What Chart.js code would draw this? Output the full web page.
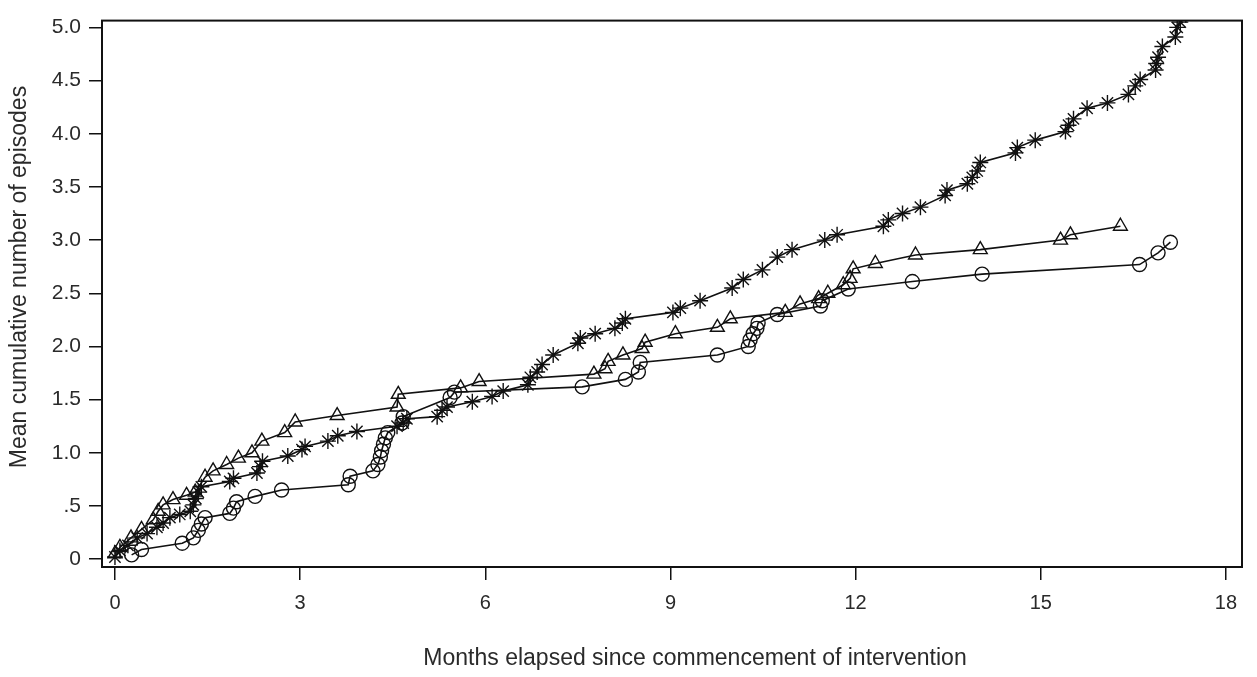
<!DOCTYPE html>
<html>
<head>
<meta charset="utf-8">
<script src="https://cdn.jsdelivr.net/npm/chart.js@4/dist/chart.umd.min.js"></script>
<style>
  html, body { margin: 0; padding: 0; background: #fff; }
  #wrap { width: 1257px; height: 677px; }
</style>
</head>
<body>
<div id="wrap"><canvas id="mcf" width="1257" height="677"></canvas></div>
<script>
// months elapsed / mean cumulative number of episodes
const triMonths = [0.0, 0.08, 0.26, 0.43, 0.62, 0.7, 0.78, 0.94, 1.16, 1.3, 1.46, 1.59, 1.81, 2.0, 2.22, 2.38, 2.75, 2.92, 3.6, 4.57, 4.59, 5.6, 5.9, 7.76, 7.94, 7.99, 8.23, 8.54, 8.59, 9.08, 9.76, 9.97, 10.86, 11.1, 11.4, 11.55, 11.8, 11.91, 11.96, 12.32, 12.97, 14.02, 15.32, 15.48, 16.29];
const triMean   = [0.05, 0.11, 0.2, 0.28, 0.37, 0.45, 0.51, 0.56, 0.6, 0.63, 0.77, 0.83, 0.89, 0.95, 1.0, 1.11, 1.19, 1.29, 1.35, 1.43, 1.55, 1.61, 1.67, 1.74, 1.79, 1.86, 1.92, 1.98, 2.04, 2.12, 2.18, 2.26, 2.32, 2.4, 2.45, 2.5, 2.58, 2.64, 2.73, 2.78, 2.86, 2.91, 3.0, 3.05, 3.13];

const circMonths = [0.27, 0.43, 1.09, 1.27, 1.35, 1.4, 1.46, 1.86, 1.92, 1.97, 2.27, 2.7, 3.78, 3.81, 4.18, 4.26, 4.3, 4.32, 4.35, 4.38, 4.42, 4.65, 4.67, 5.43, 5.5, 7.57, 8.27, 8.48, 8.51, 9.76, 10.26, 10.29, 10.34, 10.4, 10.42, 10.73, 11.43, 11.46, 11.88, 12.92, 14.05, 16.6, 16.9, 17.1];
const circMean   = [0.04, 0.09, 0.15, 0.2, 0.27, 0.33, 0.39, 0.43, 0.48, 0.54, 0.59, 0.65, 0.7, 0.78, 0.83, 0.89, 0.96, 1.02, 1.08, 1.14, 1.19, 1.28, 1.34, 1.52, 1.57, 1.62, 1.69, 1.76, 1.85, 1.92, 2.0, 2.06, 2.12, 2.17, 2.22, 2.3, 2.38, 2.43, 2.54, 2.61, 2.68, 2.77, 2.88, 2.98];

const starMonths = [0.0, 0.08, 0.21, 0.36, 0.52, 0.68, 0.78, 0.89, 1.05, 1.22, 1.27, 1.31, 1.35, 1.4, 1.86, 1.92, 2.3, 2.35, 2.39, 2.8, 3.03, 3.08, 3.45, 3.61, 3.92, 4.57, 4.67, 4.73, 5.22, 5.3, 5.38, 5.79, 6.11, 6.29, 6.69, 6.73, 6.84, 6.92, 7.1, 7.5, 7.54, 7.78, 8.1, 8.22, 8.27, 9.04, 9.16, 9.48, 10.0, 10.18, 10.49, 10.73, 10.97, 11.5, 11.7, 12.45, 12.53, 12.76, 13.05, 13.45, 13.48, 13.81, 13.89, 13.97, 14.02, 14.59, 14.62, 14.91, 15.4, 15.45, 15.53, 15.75, 16.08, 16.42, 16.53, 16.61, 16.86, 16.87, 16.9, 16.97, 17.18, 17.21, 17.26, 17.35];
const starMean   = [0.02, 0.08, 0.13, 0.2, 0.24, 0.3, 0.34, 0.39, 0.42, 0.45, 0.51, 0.57, 0.63, 0.68, 0.73, 0.76, 0.81, 0.87, 0.92, 0.97, 1.03, 1.06, 1.11, 1.16, 1.2, 1.25, 1.28, 1.32, 1.34, 1.4, 1.43, 1.48, 1.53, 1.58, 1.64, 1.71, 1.76, 1.83, 1.92, 2.03, 2.08, 2.12, 2.17, 2.22, 2.26, 2.32, 2.36, 2.43, 2.55, 2.63, 2.72, 2.84, 2.91, 3.0, 3.05, 3.13, 3.19, 3.25, 3.31, 3.42, 3.47, 3.53, 3.59, 3.65, 3.73, 3.82, 3.87, 3.94, 4.02, 4.08, 4.14, 4.24, 4.29, 4.37, 4.45, 4.51, 4.6, 4.66, 4.72, 4.82, 4.91, 5.0, 5.05, 5.12];

const xTicks = [0, 3, 6, 9, 12, 15, 18];
const yTicks = [0, 0.5, 1, 1.5, 2, 2.5, 3, 3.5, 4, 4.5, 5];
const yTickLabels = ['0', '.5', '1.0', '1.5', '2.0', '2.5', '3.0', '3.5', '4.0', '4.5', '5.0'];
const xTitle = 'Months elapsed since commencement of intervention';
const yTitle = 'Mean cumulative number of episodes';

const toPts = (xs, ys) => xs.map((x, i) => ({ x: x, y: ys[i] }));

const FONT = '"Liberation Sans", Arial, sans-serif';
const INK = '#111';
const TXT = '#2a2a2a';

function series(label, xs, ys, style, r) {
  return {
    label: label,
    data: toPts(xs, ys),
    borderColor: INK,
    borderWidth: 1.6,
    pointStyle: style,
    pointRadius: r,
    pointBorderWidth: 1.4,
    pointBorderColor: INK,
    pointBackgroundColor: 'rgba(0,0,0,0)',
    tension: 0
  };
}

// box round the plot area + axis titles (the x title sits right of the plot centre in the original)
const frame = {
  id: 'frame',
  afterDraw(chart) {
    const a = chart.chartArea, ctx = chart.ctx;
    ctx.save();
    ctx.strokeStyle = INK;
    ctx.lineWidth = 2;
    ctx.strokeRect(a.left, a.top, a.right - a.left, a.bottom - a.top);

    ctx.fillStyle = TXT;
    ctx.font = '23px ' + FONT;
    ctx.textAlign = 'center';
    ctx.textBaseline = 'middle';
    ctx.fillText(xTitle, 695, 659);
    ctx.translate(20, 277);
    ctx.rotate(-Math.PI / 2);
    ctx.fillText(yTitle, 0, 0);
    ctx.restore();
  }
};

new Chart(document.getElementById('mcf'), {
  type: 'line',
  data: {
    datasets: [
      series('triangle', triMonths, triMean, 'triangle', 8),
      series('circle', circMonths, circMean, 'circle', 7),
      series('star', starMonths, starMean, 'star', 8)
    ]
  },
  options: {
    responsive: false,
    animation: false,
    layout: { padding: { left: 0, top: 8, right: 15, bottom: 0 } },
    plugins: { legend: { display: false }, tooltip: { enabled: false } },
    scales: {
      x: {
        type: 'linear',
        min: -0.21,
        max: 18.26,
        afterBuildTicks: s => { s.ticks = xTicks.map(v => ({ value: v })); },
        afterFit: s => { s.height = 110; },
        grid: { drawOnChartArea: false, drawTicks: true, tickLength: 13, color: INK, lineWidth: 1.5 },
        border: { display: false },
        ticks: { color: TXT, padding: 11, font: { family: FONT, size: 20 }, maxRotation: 0 },
        title: { display: false }
      },
      y: {
        type: 'linear',
        min: -0.074,
        max: 5.064,
        afterBuildTicks: s => { s.ticks = yTicks.map(v => ({ value: v })); },
        afterFit: s => { s.width = 102; },
        grid: { drawOnChartArea: false, drawTicks: true, tickLength: 13, color: INK, lineWidth: 1.5 },
        border: { display: false },
        ticks: { color: TXT, padding: 8, font: { family: FONT, size: 21 }, callback: (v, i) => yTickLabels[i] },
        title: { display: false }
      }
    }
  },
  plugins: [frame]
});
</script>
</body>
</html>
